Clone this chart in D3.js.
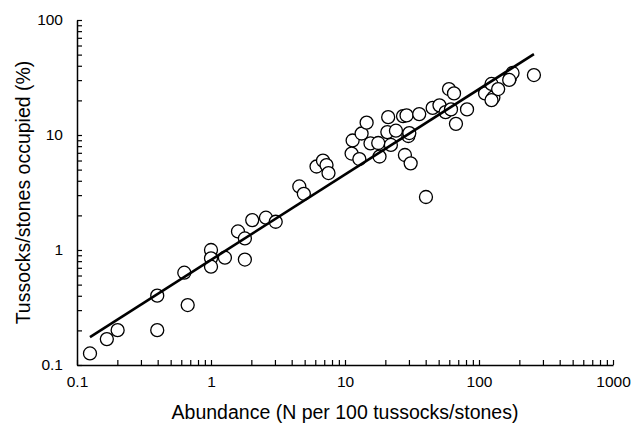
<!DOCTYPE html>
<html>
<head>
<meta charset="utf-8">
<script src="https://cdn.jsdelivr.net/npm/d3@7"></script>
<style>
  html, body { margin: 0; padding: 0; background: #fff; }
  svg { display: block; font-family: "Liberation Sans", Arial, sans-serif; }
</style>
</head>
<body>
<svg id="chart" width="631" height="430"></svg>
<script>
// Abundance (N per 100 tussocks/stones)
const abundance = [
  0.125, 0.167, 0.201, 0.397, 0.397, 0.632, 0.670, 1.0, 1.0, 1.0,
  1.27, 1.79, 1.59, 1.79, 2.03, 2.57, 3.04, 4.56, 4.93, 6.13,
  6.85, 7.28, 7.53, 11.4, 11.2, 12.8, 13.3, 14.5, 15.5, 17.7,
  18.1, 21.0, 20.7, 22.0, 24.0, 27.1, 28.8, 29.7, 30.2, 35.8,
  28.0, 30.9, 40.2, 45.1, 50.7, 56.3, 61.8, 59.7, 65.1, 67.3,
  81.4, 111, 124, 128, 139, 170, 178, 257, 124, 168
];
// Tussocks/stones occupied (%)
const occupied = [
  0.126, 0.168, 0.201, 0.401, 0.201, 0.635, 0.332, 1.0, 0.847, 0.716,
  0.857, 0.826, 1.45, 1.26, 1.82, 1.91, 1.76, 3.57, 3.08, 5.32,
  5.98, 5.48, 4.67, 8.96, 6.90, 6.18, 10.3, 12.8, 8.44, 8.52,
  6.50, 14.3, 10.6, 8.19, 10.9, 14.6, 14.8, 9.80, 10.4, 15.2,
  6.70, 5.67, 2.89, 17.2, 18.1, 15.8, 16.7, 25.1, 23.0, 12.5,
  16.7, 23.0, 27.8, 21.2, 25.1, 31.3, 34.6, 33.2, 20.1, 30.1
];
// Fitted power-law line endpoints
const fitX = [0.125, 257];
const fitY = [0.175, 50.5];

const xMajor = [0.1, 1, 10, 100, 1000];
const xMajorLabels = ["0.1", "1", "10", "100", "1000"];
const yMajor = [0.1, 1, 10, 100];
const yMajorLabels = ["0.1", "1", "10", "100"];

const xTitle = "Abundance (N per 100 tussocks/stones)";
const yTitle = "Tussocks/stones occupied (%)";

const svg = d3.select("#chart");
const L = 77, R = 613, T = 20, B = 365;

const x = d3.scaleLog().domain([0.1, 1000]).range([L, R]);
const y = d3.scaleLog().domain([0.1, 100]).range([B, T]);

function logTicks(majors) {
  const out = [];
  for (let i = 0; i < majors.length; i++) {
    out.push(majors[i]);
    if (i < majors.length - 1) {
      for (let m = 2; m <= 9; m++) out.push(+(majors[i] * m).toPrecision(3));
    }
  }
  return out;
}

const xTicks = logTicks(xMajor);
const yTicks = logTicks(yMajor);

// X axis
const gx = svg.append("g").attr("transform", `translate(0,${B})`)
  .call(d3.axisBottom(x).tickValues(xTicks).tickSizeInner(-5).tickSizeOuter(0)
    .tickPadding(11)
    .tickFormat(d => { const i = xMajor.indexOf(d); return i >= 0 ? xMajorLabels[i] : ""; }));
gx.select(".domain").attr("stroke", "#000").attr("stroke-width", 1.5);
gx.selectAll(".tick line").attr("stroke", "#000").attr("stroke-width", 1.2);
gx.selectAll(".tick text").attr("font-size", 15.5).attr("fill", "#000")
  .attr("font-family", "Liberation Sans, Arial, sans-serif");

// Y axis
const gy = svg.append("g").attr("transform", `translate(${L},0)`)
  .call(d3.axisLeft(y).tickValues(yTicks).tickSizeInner(-5).tickSizeOuter(0)
    .tickPadding(14)
    .tickFormat(d => { const i = yMajor.indexOf(d); return i >= 0 ? yMajorLabels[i] : ""; }));
gy.select(".domain").attr("stroke", "#000").attr("stroke-width", 1.5);
gy.selectAll(".tick line").attr("stroke", "#000").attr("stroke-width", 1.2);
gy.selectAll(".tick text").attr("font-size", 15.5).attr("fill", "#000")
  .attr("font-family", "Liberation Sans, Arial, sans-serif");

// Points
svg.append("g").selectAll("circle")
  .data(abundance.map((a, i) => [a, occupied[i]]))
  .join("circle")
  .attr("cx", d => x(d[0]))
  .attr("cy", d => y(d[1]))
  .attr("r", 6.5)
  .attr("fill", "#fff")
  .attr("stroke", "#000")
  .attr("stroke-width", 1.3);

// Fitted line
svg.append("path")
  .datum(fitX.map((a, i) => [a, fitY[i]]))
  .attr("d", d3.line().x(d => x(d[0])).y(d => y(d[1])))
  .attr("fill", "none")
  .attr("stroke", "#000")
  .attr("stroke-width", 2.6);

// Titles
svg.append("text")
  .attr("x", (L + R) / 2).attr("y", 419)
  .attr("text-anchor", "middle")
  .attr("font-size", 19.5)
  .text(xTitle);

svg.append("text")
  .attr("transform", `translate(30,${(T + B) / 2}) rotate(-90)`)
  .attr("text-anchor", "middle")
  .attr("font-size", 19.5)
  .text(yTitle);
</script>
</body>
</html>
